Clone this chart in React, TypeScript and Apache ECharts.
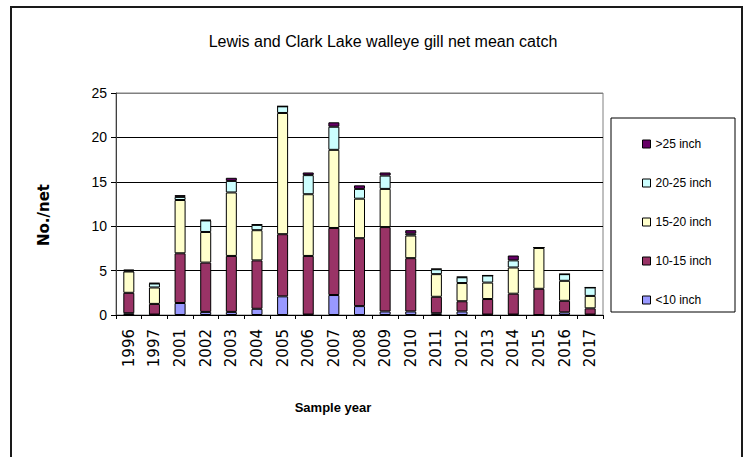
import React, { useEffect, useRef } from "react";
import * as echarts from "echarts";

// Sample years (x-axis categories)
const years = [
  "1996", "1997", "2001", "2002", "2003", "2004", "2005", "2006", "2007", "2008",
  "2009", "2010", "2011", "2012", "2013", "2014", "2015", "2016", "2017",
];

// Mean catch per net by length group
const under10 = [0.2, 0.05, 1.35, 0.35, 0.35, 0.7, 2.1, 0.05, 2.25, 1.0, 0.4, 0.4, 0.2, 0.4, 0.05, 0.05, 0, 0.3, 0.05];
const from10to15 = [2.3, 1.2, 5.6, 5.55, 6.3, 5.45, 7.0, 6.6, 7.55, 7.65, 9.5, 6.0, 1.85, 1.15, 1.75, 2.35, 2.95, 1.3, 0.7];
const from15to20 = [2.4, 1.85, 6.0, 3.45, 7.15, 3.4, 13.65, 6.95, 8.8, 4.45, 4.3, 2.55, 2.55, 2.05, 1.85, 2.95, 4.6, 2.25, 1.4];
const from20to25 = [0.1, 0.45, 0.35, 1.3, 1.3, 0.6, 0.75, 2.15, 2.6, 1.1, 1.5, 0.2, 0.55, 0.65, 0.8, 0.8, 0.05, 0.75, 0.95];
const over25 = [0.1, 0.05, 0.2, 0.05, 0.35, 0.05, 0, 0.3, 0.5, 0.4, 0.35, 0.4, 0.05, 0.05, 0, 0.55, 0, 0, 0];

const seriesNames = ["<10 inch", "10-15 inch", "15-20 inch", "20-25 inch", ">25 inch"];
const seriesColors = ["#9999FF", "#993366", "#FFFFCC", "#CCFFFF", "#660066"];
const seriesValues = [under10, from10to15, from15to20, from20to25, over25];

const yTicks = { min: 0, max: 25, interval: 5 };

const SANS = "'Liberation Sans', Arial, sans-serif";
const WIDE = "'DejaVu Sans', 'Liberation Sans', Arial, sans-serif";

export default function App() {
  const ref = useRef<HTMLDivElement>(null);

  useEffect(() => {
    if (!ref.current) return;
    const chart = echarts.init(ref.current, null, { renderer: "svg" });

    chart.setOption({
      animation: false,
      backgroundColor: "#ffffff",
      title: {
        text: "Lewis and Clark Lake walleye gill net mean catch",
        left: 378,
        top: 28,
        textAlign: "center",
        textStyle: { fontFamily: SANS, fontSize: 16, fontWeight: "normal", color: "#000" },
      },
      grid: {
        left: 116,
        top: 93,
        right: 146,
        bottom: 142,
        show: true,
        borderColor: "#808080",
        borderWidth: 1,
        backgroundColor: "#ffffff",
      },
      legend: {
        orient: "vertical",
        left: 637,
        top: 132,
        itemWidth: 8,
        itemHeight: 8,
        itemGap: 25,
        icon: "rect",
        data: [...seriesNames].reverse(),
        textStyle: { fontFamily: SANS, fontSize: 12, color: "#000", lineHeight: 14 },
        itemStyle: { borderColor: "#000", borderWidth: 1 },
      },
      xAxis: {
        type: "category",
        data: years,
        axisLine: { lineStyle: { color: "#000", width: 1 } },
        axisTick: { show: true, length: 4, lineStyle: { color: "#000" } },
        axisLabel: {
          rotate: 90,
          margin: 14,
          fontFamily: WIDE,
          fontSize: 15,
          color: "#000",
        },
      },
      yAxis: {
        type: "value",
        min: yTicks.min,
        max: yTicks.max,
        interval: yTicks.interval,
        axisLine: { show: true, lineStyle: { color: "#404040", width: 1 } },
        axisTick: { show: true, length: 5, lineStyle: { color: "#000" } },
        axisLabel: { margin: 9, fontFamily: SANS, fontSize: 14, color: "#000" },
        splitLine: {
          show: true,
          lineStyle: {
            color: ["#000", "#000", "#000", "#000", "#000", "#808080"],
            width: 1,
          },
        },
      },
      series: seriesNames.map((name, i) => ({
        name,
        type: "bar",
        stack: "catch",
        barWidth: 11,
        data: seriesValues[i],
        itemStyle: { color: seriesColors[i], borderColor: "#000", borderWidth: 1 },
      })),
      graphic: [
        {
          type: "rect",
          shape: { x: 11, y: 7, width: 731, height: 480 },
          style: { fill: "none", stroke: "#1a1a1a", lineWidth: 2 },
          silent: true,
        },
        {
          type: "rect",
          shape: { x: 611, y: 118, width: 124, height: 194 },
          style: { fill: "none", stroke: "#000", lineWidth: 1 },
          silent: true,
        },
        {
          type: "text",
          x: 44,
          y: 215,
          rotation: Math.PI / 2,
          style: {
            text: "No./net",
            align: "center",
            verticalAlign: "middle",
            font: `bold 15px ${WIDE}`,
            fill: "#000",
          },
        },
        {
          type: "text",
          x: 333,
          y: 407,
          style: {
            text: "Sample year",
            align: "center",
            verticalAlign: "middle",
            font: `bold 13px ${SANS}`,
            fill: "#000",
          },
        },
      ],
    });

    return () => chart.dispose();
  }, []);

  return (
    <div
      ref={ref}
      style={{ position: "absolute", left: 0, top: 0, width: 749, height: 457 }}
    />
  );
}
